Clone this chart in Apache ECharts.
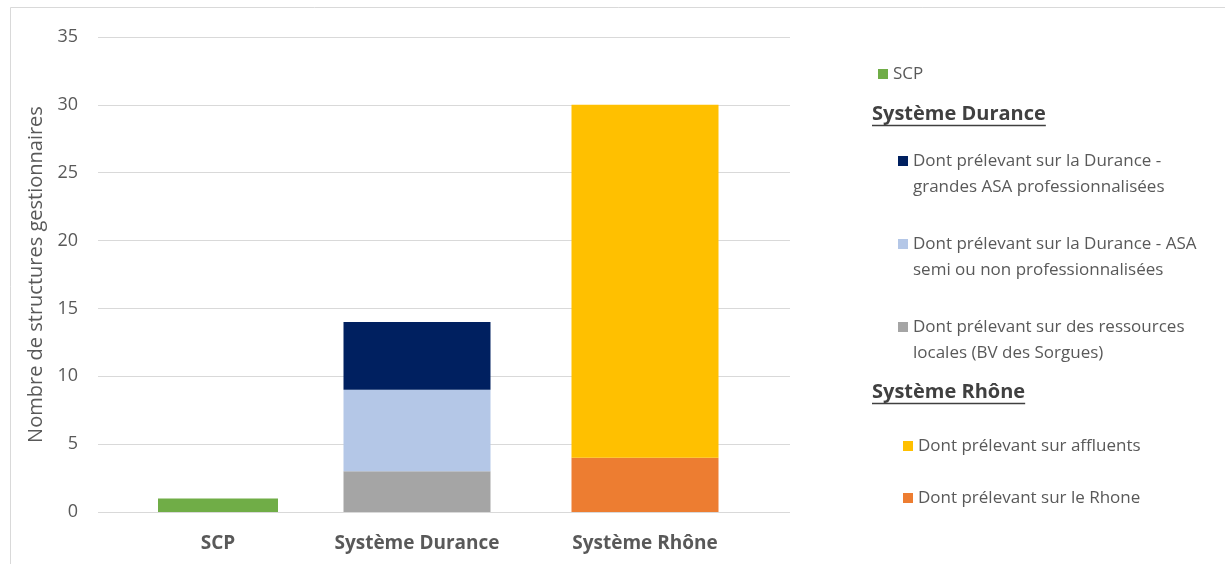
<!DOCTYPE html>
<html><head><meta charset="utf-8">
<script src="https://cdn.jsdelivr.net/npm/echarts@6/dist/echarts.min.js"></script>
<style>html,body{margin:0;padding:0;background:#fff}#c{width:1225px;height:564px}</style>
</head><body><div id="c"></div>
<script>
// ---- data ----
const categories = ['SCP', 'Système Durance', 'Système Rhône'];
const yMin = 0, yMax = 35, yStep = 5;
const yTitle = 'Nombre de structures gestionnaires';

const scpName = 'SCP';
const scpValues = [1, 0, 0];

const duranceNames = [
  'Dont prélevant sur des ressources locales (BV des Sorgues)',
  'Dont prélevant sur la Durance - ASA semi ou non professionnalisées',
  'Dont prélevant sur la Durance - grandes ASA professionnalisées'
];
const duranceLocales = [0, 3, 0];
const duranceSemi = [0, 6, 0];
const duranceGrandes = [0, 5, 0];

const rhoneNames = ['Dont prélevant sur le Rhone', 'Dont prélevant sur affluents'];
const rhoneFleuve = [0, 0, 4];
const rhoneAffluents = [0, 0, 26];

const legendText = {
  'SCP': 'SCP',
  'Dont prélevant sur la Durance - grandes ASA professionnalisées': '\nDont prélevant sur la Durance -\ngrandes ASA professionnalisées',
  'Dont prélevant sur la Durance - ASA semi ou non professionnalisées': '\nDont prélevant sur la Durance - ASA\nsemi ou non professionnalisées',
  'Dont prélevant sur des ressources locales (BV des Sorgues)': '\nDont prélevant sur des ressources\nlocales (BV des Sorgues)',
  'Dont prélevant sur affluents': 'Dont prélevant sur affluents',
  'Dont prélevant sur le Rhone': 'Dont prélevant sur le Rhone'
};
const headings = ['Système Durance', 'Système Rhône'];

// ---- styles ----
const FONT = '"Open Sans", "Liberation Sans", sans-serif';
const colors = {
  scp: '#70AD47', locales: '#A5A5A5', semi: '#B4C7E7', grandes: '#002060',
  fleuve: '#ED7D31', affluents: '#FFC000'
};
const txt = '#595959';

const chart = echarts.init(document.getElementById('c'), null, {renderer: 'canvas'});

function measure(t, font) {
  const c = document.createElement('canvas').getContext('2d');
  c.font = font; return c.measureText(t).width;
}

const gridTop = 37, gridBottom = 52;
const hiddenY = {type: 'value', min: yMin, max: yMax, interval: yStep, show: false};

function legendItem(name, left, iconCenter, twoLine) {
  return {
    data: [name], left: left, top: twoLine ? iconCenter - 39 : iconCenter - 13,
    padding: 0, itemWidth: 10, itemHeight: 10, icon: 'rect', selectedMode: false,
    formatter: n => legendText[n],
    textStyle: {fontFamily: FONT, fontSize: 17, color: txt, lineHeight: 26}
  };
}

const headFont = 'bold 20px "Open Sans"';
const graphics = [{
  type: 'rect', silent: true,
  shape: {x: 10.5, y: 7.5, width: 1225, height: 600},
  style: {fill: 'none', stroke: '#d9d9d9', lineWidth: 1}
}];
const headY = [114, 392];
headings.forEach((h, i) => {
  const w = measure(h, headFont);
  graphics.push({type: 'text', x: 872, y: headY[i], silent: true,
    style: {text: h, font: headFont, fill: '#404040', verticalAlign: 'middle', align: 'left'}});
  graphics.push({type: 'line', silent: true,
    shape: {x1: 872, y1: headY[i] + 11.5, x2: 872 + w, y2: headY[i] + 11.5},
    style: {stroke: '#404040', lineWidth: 1.3}});
});

const catLabel = {margin: 22, fontFamily: FONT, fontSize: 19, fontWeight: 'bold', color: txt};

const option = {
  backgroundColor: '#fff',
  animation: false,
  grid: [
    {left: 98, right: 1225 - 790, top: gridTop, bottom: gridBottom},
    {left: 75, width: 684, top: gridTop, bottom: gridBottom},
    {left: 104, width: 684, top: gridTop, bottom: gridBottom}
  ],
  xAxis: [
    {gridIndex: 0, type: 'category', data: categories, show: false},
    {gridIndex: 1, type: 'category', data: categories,
      axisLine: {show: false}, axisTick: {show: false}, splitLine: {show: false},
      axisLabel: Object.assign({formatter: (v, i) => i === 0 ? '' : v}, catLabel)},
    {gridIndex: 2, type: 'category', data: categories,
      axisLine: {show: false}, axisTick: {show: false}, splitLine: {show: false},
      axisLabel: Object.assign({formatter: (v, i) => i === 0 ? v : ''}, catLabel)}
  ],
  yAxis: [
    {gridIndex: 0, type: 'value', min: yMin, max: yMax, interval: yStep,
      name: yTitle, nameLocation: 'middle', nameGap: 50, nameRotate: 90,
      nameTextStyle: {fontFamily: FONT, fontSize: 20, color: txt},
      axisLine: {show: false}, axisTick: {show: false},
      axisLabel: {margin: 20, fontFamily: FONT, fontSize: 18, color: txt},
      splitLine: {lineStyle: {color: '#d9d9d9', width: 1}}},
    Object.assign({gridIndex: 1}, hiddenY),
    Object.assign({gridIndex: 2}, hiddenY)
  ],
  legend: [
    legendItem(scpName, 878, 74, false),
    legendItem(duranceNames[2], 898, 161, true),
    legendItem(duranceNames[1], 898, 244, true),
    legendItem(duranceNames[0], 898, 327, true),
    legendItem(rhoneNames[1], 903, 446, false),
    legendItem(rhoneNames[0], 903, 498, false)
  ],
  graphic: graphics,
  series: [
    {name: duranceNames[0], type: 'bar', stack: 'tot', xAxisIndex: 1, yAxisIndex: 1, barWidth: 147,
      data: duranceLocales, itemStyle: {color: colors.locales}},
    {name: duranceNames[1], type: 'bar', stack: 'tot', xAxisIndex: 1, yAxisIndex: 1, barWidth: 147,
      data: duranceSemi, itemStyle: {color: colors.semi}},
    {name: duranceNames[2], type: 'bar', stack: 'tot', xAxisIndex: 1, yAxisIndex: 1, barWidth: 147,
      data: duranceGrandes, itemStyle: {color: colors.grandes}},
    {name: rhoneNames[0], type: 'bar', stack: 'tot', xAxisIndex: 1, yAxisIndex: 1, barWidth: 147,
      data: rhoneFleuve, itemStyle: {color: colors.fleuve}},
    {name: rhoneNames[1], type: 'bar', stack: 'tot', xAxisIndex: 1, yAxisIndex: 1, barWidth: 147,
      data: rhoneAffluents, itemStyle: {color: colors.affluents}},
    {name: scpName, type: 'bar', xAxisIndex: 2, yAxisIndex: 2, barWidth: 120,
      data: scpValues, itemStyle: {color: colors.scp}}
  ]
};
chart.setOption(option);
</script></body></html>
